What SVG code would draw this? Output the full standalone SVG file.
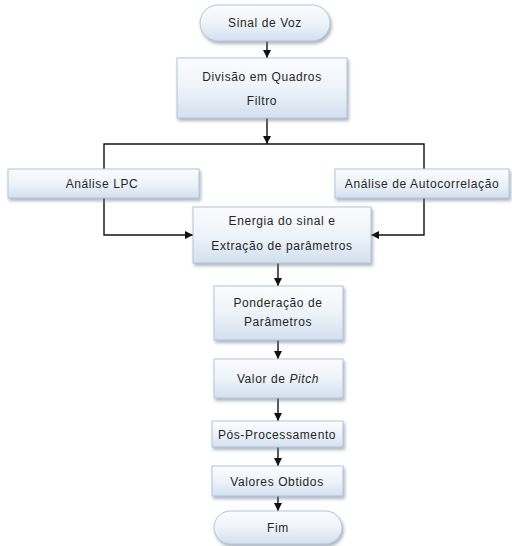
<svg xmlns="http://www.w3.org/2000/svg" width="512" height="546" viewBox="0 0 512 546">
<defs>
<linearGradient id="g" x1="0" y1="0" x2="0" y2="1">
<stop offset="0" stop-color="#fbfcfe"/>
<stop offset="0.5" stop-color="#eef3f9"/>
<stop offset="1" stop-color="#d3e0ef"/>
</linearGradient>
<filter id="sh" x="-10%" y="-20%" width="130%" height="160%">
<feDropShadow dx="1.5" dy="2.5" stdDeviation="1.5" flood-color="#6b7b8f" flood-opacity="0.55"/>
</filter>
<marker id="ah" viewBox="0 0 10 10" refX="10" refY="5" markerWidth="8" markerHeight="8" markerUnits="userSpaceOnUse" orient="auto">
<path d="M0,0 L10,5 L0,10 z" fill="#111"/>
</marker>
</defs>
<style>
.box{fill:url(#g);stroke:#b3c4da;stroke-width:1;filter:url(#sh)}
.t{font-family:"Liberation Sans",Arial,sans-serif;font-size:12px;fill:#262626;text-anchor:middle;letter-spacing:0.6px}
.c{fill:none;stroke:#111;stroke-width:1.4}
.a{marker-end:url(#ah)}
</style>
<rect width="512" height="546" fill="#fff"/>
<g id="connectors">
<line class="c a" x1="267" y1="41" x2="267" y2="58"/>
<line class="c a" x1="267" y1="118" x2="267" y2="144"/>
<polyline class="c" points="104,169 104,144 424,144 424,169"/>
<polyline class="c a" points="104,198 104,235 193,235"/>
<polyline class="c a" points="424,198 424,235 371,235"/>
<line class="c a" x1="278" y1="263" x2="278" y2="286"/>
<line class="c a" x1="278" y1="340" x2="278" y2="359"/>
<line class="c a" x1="278" y1="398" x2="278" y2="421"/>
<line class="c a" x1="278" y1="447" x2="278" y2="466"/>
<line class="c a" x1="278" y1="496" x2="278" y2="511"/>
</g>
<g id="sinal">
<rect class="box" x="200" y="5" width="130" height="36" rx="18" ry="18"/>
<text class="t" x="265" y="27">Sinal de Voz</text>
</g>
<g id="divisao">
<rect class="box" x="177" y="58" width="170" height="60"/>
<text class="t" x="262" y="81">Divisão em Quadros</text>
<text class="t" x="262" y="105">Filtro</text>
</g>
<g id="lpc">
<rect class="box" x="8" y="169" width="191" height="29"/>
<text class="t" x="102" y="188">Análise LPC</text>
</g>
<g id="autocorr">
<rect class="box" x="335" y="169" width="174" height="29"/>
<text class="t" x="422" y="188">Análise de Autocorrelação</text>
</g>
<g id="energia">
<rect class="box" x="193" y="207" width="178" height="56"/>
<text class="t" x="282" y="225">Energia do sinal e</text>
<text class="t" x="282" y="250">Extração de parâmetros</text>
</g>
<g id="ponderacao">
<rect class="box" x="214" y="286" width="129" height="54"/>
<text class="t" x="278" y="307">Ponderação de</text>
<text class="t" x="278" y="326">Parâmetros</text>
</g>
<g id="pitch">
<rect class="box" x="214" y="359" width="129" height="39"/>
<text class="t" x="278" y="383">Valor de <tspan font-style="italic">Pitch</tspan></text>
</g>
<g id="pos">
<rect class="box" x="212" y="421" width="131" height="26"/>
<text class="t" x="277" y="439">Pós-Processamento</text>
</g>
<g id="valores">
<rect class="box" x="212" y="466" width="131" height="30"/>
<text class="t" x="277" y="486">Valores Obtidos</text>
</g>
<g id="fim">
<rect class="box" x="214" y="511" width="128" height="33" rx="16.5" ry="16.5"/>
<text class="t" x="278" y="532">Fim</text>
</g>
</svg>
